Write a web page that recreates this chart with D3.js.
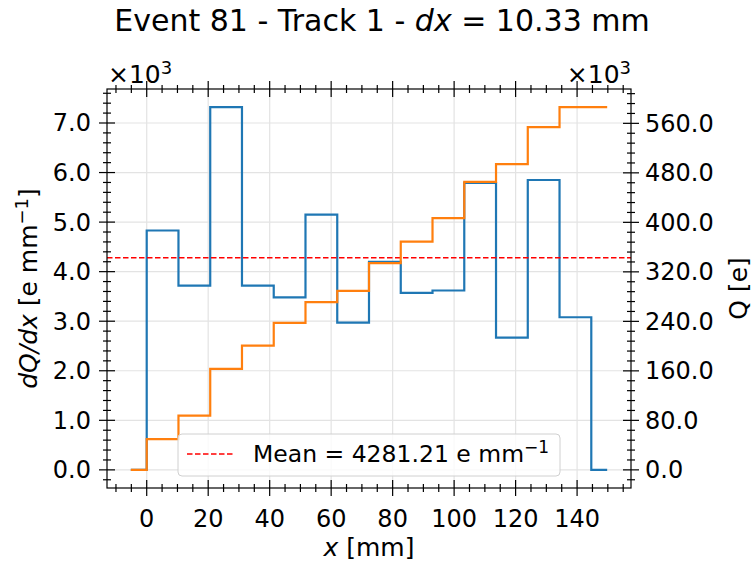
<!DOCTYPE html>
<html>
<head>
<meta charset="utf-8">
<script src="https://cdn.jsdelivr.net/npm/d3@7"></script>
<style>
  body { margin: 0; background: #fff; }
  text { font-family: "DejaVu Sans", sans-serif; fill: #000; }
</style>
</head>
<body>
<div id="chart"></div>
<script>

// data ====================

// step edges along the track [mm]
var edges = [-5.17, 0, 10.33, 20.66, 30.99, 41.32, 51.65, 61.98, 72.31, 82.64,
  92.97, 103.3, 113.63, 123.96, 134.29, 144.62, 149.79];

// dQ/dx per step [e/mm]
var dQdx = [0, 4830, 3720, 7320, 3720, 3480, 5150, 2970, 4200, 3570, 3620,
  5790, 2670, 5850, 3080, 0];

// accumulated charge per step [e]
var charge = [0, 49600, 87800, 163200, 200900, 237600, 271000, 289400, 334000,
  368900, 406700, 465500, 494000, 553800, 586200, 586200];

var meanValue = 4281.21;

var xTicks = [0, 20, 40, 60, 80, 100, 120, 140];
var yTicks = [0, 1000, 2000, 3000, 4000, 5000, 6000, 7000];
var qTicks = [0, 80000, 160000, 240000, 320000, 400000, 480000, 560000];

// layout ====================

var width = 756;
var height = 562;
var mLeft = 107, mRight = 631, mTop = 89, mBottom = 488;

var colors = { dqdx: '#1f77b4', q: '#ff7f0e', mean: '#ff0000' };

var svg = d3.select('#chart')
  .append('svg')
  .attr('width', width)
  .attr('height', height);

// matplotlib-like 5% margins
var pad = function(ext) {
  var m = (ext[1] - ext[0]) * 0.05;
  return [ext[0] - m, ext[1] + m];
};

var x = d3.scaleLinear().domain(pad(d3.extent(edges))).range([mLeft, mRight]);
var y = d3.scaleLinear().domain(pad(d3.extent(dQdx))).range([mBottom, mTop]);
var yQ = d3.scaleLinear().domain(pad(d3.extent(charge))).range([mBottom, mTop]);

var fmt = function(v) { return d3.format('.1f')(v / 1000); };

// grid
var grid = svg.append('g').attr('class', 'grid');

grid.selectAll('.gx')
  .data(xTicks)
  .enter().append('line')
  .attr('x1', function(d) { return x(d); })
  .attr('x2', function(d) { return x(d); })
  .attr('y1', mTop)
  .attr('y2', mBottom)
  .style('stroke', '#e3e3e3')
  .style('stroke-width', 1.2);

grid.selectAll('.gy')
  .data(yTicks)
  .enter().append('line')
  .attr('x1', mLeft)
  .attr('x2', mRight)
  .attr('y1', function(d) { return y(d); })
  .attr('y2', function(d) { return y(d); })
  .style('stroke', '#e3e3e3')
  .style('stroke-width', 1.2);

// step lines
var stepLine = function(values, scale) {
  var pts = values.map(function(v, i) { return [edges[i], v]; });
  pts.push([edges[edges.length - 1], values[values.length - 1]]);
  return d3.line()
    .x(function(d) { return x(d[0]); })
    .y(function(d) { return scale(d[1]); })
    .curve(d3.curveStepAfter)(pts);
};

svg.append('path')
  .attr('d', stepLine(dQdx, y))
  .style('fill', 'none')
  .style('stroke', colors.dqdx)
  .style('stroke-width', 2.2);

svg.append('line')
  .attr('x1', mLeft)
  .attr('x2', mRight)
  .attr('y1', y(meanValue))
  .attr('y2', y(meanValue))
  .style('stroke', colors.mean)
  .style('stroke-width', 1.5)
  .style('stroke-dasharray', '5.5,2.5');

svg.append('path')
  .attr('d', stepLine(charge, yQ))
  .style('fill', 'none')
  .style('stroke', colors.q)
  .style('stroke-width', 2.2);

// axes: inout ticks on every side
var ticks = function(g, vals, len, orient) {
  g.selectAll(null)
    .data(vals)
    .enter().append('line')
    .attr('x1', function(d) { return orient == 'h' ? d.p : d.p - len; })
    .attr('x2', function(d) { return orient == 'h' ? d.p : d.p + len; })
    .attr('y1', function(d) { return orient == 'h' ? d.q - len : d.q; })
    .attr('y2', function(d) { return orient == 'h' ? d.q + len : d.q; })
    .style('stroke', '#000')
    .style('stroke-width', 1.2);
};

var axes = svg.append('g');

var inY = function(s) {
  return function(d) { return s(d) > mTop && s(d) < mBottom; };
};

var xMinor = d3.range(-10, 160, 5).filter(function(d) { return d % 20 != 0; });
var yMinor = d3.range(-200, 7800, 200).filter(function(d) { return d % 1000 != 0; }).filter(inY(y));
var qMinor = d3.range(-16000, 616000, 16000).filter(function(d) { return d % 80000 != 0; }).filter(inY(yQ));

[mBottom, mTop].forEach(function(py) {
  ticks(axes, xTicks.map(function(d) { return { p: x(d), q: py }; }), 8, 'h');
  ticks(axes, xMinor.map(function(d) { return { p: x(d), q: py }; }), 4, 'h');
});
ticks(axes, yTicks.map(function(d) { return { p: mLeft, q: y(d) }; }), 8, 'v');
ticks(axes, yMinor.map(function(d) { return { p: mLeft, q: y(d) }; }), 4, 'v');
ticks(axes, qTicks.map(function(d) { return { p: mRight, q: yQ(d) }; }), 8, 'v');
ticks(axes, qMinor.map(function(d) { return { p: mRight, q: yQ(d) }; }), 4, 'v');

axes.append('rect')
  .attr('x', mLeft)
  .attr('y', mTop)
  .attr('width', mRight - mLeft)
  .attr('height', mBottom - mTop)
  .style('fill', 'none')
  .style('stroke', '#000')
  .style('stroke-width', 1.2);

// tick labels
axes.selectAll('.xl')
  .data(xTicks)
  .enter().append('text')
  .attr('x', function(d) { return x(d); })
  .attr('y', 527)
  .attr('text-anchor', 'middle')
  .style('font-size', '24px')
  .text(function(d) { return d; });

axes.selectAll('.yl')
  .data(yTicks)
  .enter().append('text')
  .attr('x', 91)
  .attr('y', function(d) { return y(d) + 8.5; })
  .attr('text-anchor', 'end')
  .style('font-size', '24px')
  .text(fmt);

axes.selectAll('.ql')
  .data(qTicks)
  .enter().append('text')
  .attr('x', 645)
  .attr('y', function(d) { return yQ(d) + 8.5; })
  .style('font-size', '24px')
  .text(fmt);

// offset texts
var offset = function(px, anchor) {
  var t = svg.append('text')
    .attr('x', px)
    .attr('y', 83)
    .attr('text-anchor', anchor)
    .style('font-size', '25px');
  t.append('tspan').text('\u00d710');
  t.append('tspan').attr('dy', -9).style('font-size', '18px').text('3');
};
offset(108, 'start');
offset(631, 'end');

// axis labels
var xl = svg.append('text')
  .attr('x', (mLeft + mRight) / 2)
  .attr('y', 556)
  .attr('text-anchor', 'middle')
  .style('font-size', '25px');
xl.append('tspan').style('font-style', 'italic').text('x');
xl.append('tspan').text(' [mm]');

var yl = svg.append('text')
  .attr('transform', 'translate(37,' + (mTop + mBottom) / 2 + ') rotate(-90)')
  .attr('text-anchor', 'middle')
  .style('font-size', '25px');
yl.append('tspan').style('font-style', 'italic').text('dQ/dx');
yl.append('tspan').text(' [e mm');
yl.append('tspan').attr('dy', -9).style('font-size', '18px').text('\u22121');
yl.append('tspan').attr('dy', 9).text(']');

svg.append('text')
  .attr('transform', 'translate(747,' + (mTop + mBottom) / 2 + ') rotate(-90)')
  .attr('text-anchor', 'middle')
  .style('font-size', '25px')
  .text('Q [e]');

// title
var title = svg.append('text')
  .attr('x', 382)
  .attr('y', 31)
  .attr('text-anchor', 'middle')
  .style('font-size', '30px');
title.append('tspan').text('Event 81 - Track 1 - ');
title.append('tspan').style('font-style', 'italic').text('dx');
title.append('tspan').text(' = 10.33 mm');

// legend
var legend = svg.append('g');

legend.append('rect')
  .attr('x', 178)
  .attr('y', 434)
  .attr('width', 382)
  .attr('height', 42)
  .attr('rx', 4)
  .style('fill', '#fff')
  .style('fill-opacity', 0.8)
  .style('stroke', '#d0d0d0')
  .style('stroke-width', 1);

legend.append('line')
  .attr('x1', 187)
  .attr('x2', 235)
  .attr('y1', 454)
  .attr('y2', 454)
  .style('stroke', colors.mean)
  .style('stroke-width', 1.5)
  .style('stroke-dasharray', '5.5,2.5');

var lt = legend.append('text')
  .attr('x', 253)
  .attr('y', 462)
  .style('font-size', '23.5px');
lt.append('tspan').text('Mean = ' + d3.format('.2f')(meanValue) + ' e mm');
lt.append('tspan').attr('dy', -9).style('font-size', '17px').text('\u22121');

</script>
</body>
</html>
